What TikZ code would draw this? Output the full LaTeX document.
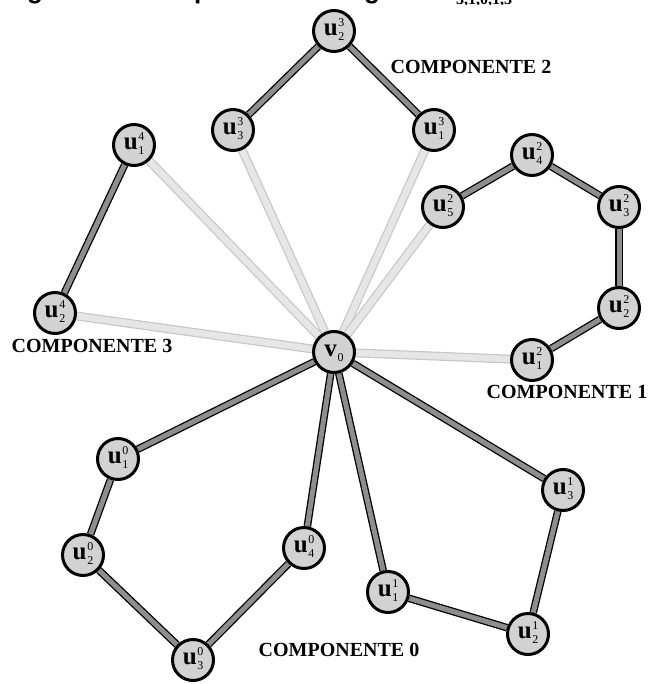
\documentclass[tikz,border=0pt]{standalone}
\usepackage{fontspec}
\setmainfont{Liberation Serif}
\newfontfamily\capsans{Liberation Sans}
\usetikzlibrary{backgrounds}

\definecolor{nodefill}{HTML}{D2D2D2}
\definecolor{darkedge}{HTML}{8E8E8E}
\definecolor{lightedge}{HTML}{E6E6E6}
\definecolor{lightrim}{HTML}{C6C6C6}

% vertex label: bold letter followed by a stacked superscript / subscript column
\newcommand\vlab[3]{{\bfseries #1}\kern0.6pt\raisebox{-5pt}{\fontsize{12}{14}\selectfont\begin{tabular}[b]{@{}l@{}}#2\\#3\end{tabular}}}

\tikzset{
  vert/.style={circle, draw=black, line width=3pt, fill=nodefill,
    minimum size=41pt, inner sep=0pt, font=\fontsize{25}{25}\selectfont},
  darkline/.style={draw=black, line width=1.3pt, double=darkedge, double distance=5pt},
  lightline/.style={draw=lightrim, line width=1.2pt, double=lightedge, double distance=6.5pt},
  complabel/.style={font=\fontsize{20}{20}\selectfont\bfseries},
  captionbit/.style={anchor=base, inner sep=0pt, font=\capsans\fontsize{26}{26}\selectfont\bfseries},
}

\begin{document}
\begin{tikzpicture}[x=1pt, y=-1pt]
\useasboundingbox (0,0) rectangle (647,684);

% caption line above the figure, cut off at the top edge
\begin{scope}
  \clip (0,0) rectangle (647,4.5);
  \node[captionbit] (capg1) at (35,-1.5) {g};
  \node[captionbit] (capp) at (202,-1.5) {p};
  \node[captionbit] (capg2) at (372,-1.5) {g};
  \node[anchor=base west, inner sep=0pt, font=\fontsize{16}{16}\selectfont\bfseries] (capsub) at (456,5) {3,1,0,1,3};
\end{scope}

% vertices
\node[vert] (v0) at (334,352) {\vlab{v}{}{0}};

\node[vert] (u23) at (334,31) {\vlab{u}{3}{2}};
\node[vert] (u33) at (233,130) {\vlab{u}{3}{3}};
\node[vert] (u13) at (434,130) {\vlab{u}{3}{1}};

\node[vert] (u14) at (134,145) {\vlab{u}{4}{1}};
\node[vert] (u24) at (55,313) {\vlab{u}{4}{2}};

\node[vert] (u42) at (532,155) {\vlab{u}{2}{4}};
\node[vert] (u52) at (443,207) {\vlab{u}{2}{5}};
\node[vert] (u32) at (619,207) {\vlab{u}{2}{3}};
\node[vert] (u22) at (619,308) {\vlab{u}{2}{2}};
\node[vert] (u12) at (532,360) {\vlab{u}{2}{1}};

\node[vert] (u10) at (118,459) {\vlab{u}{0}{1}};
\node[vert] (u20) at (83,555) {\vlab{u}{0}{2}};
\node[vert] (u30) at (193,660) {\vlab{u}{0}{3}};
\node[vert] (u40) at (304,548) {\vlab{u}{0}{4}};

\node[vert] (u11) at (388,592) {\vlab{u}{1}{1}};
\node[vert] (u21) at (528,634) {\vlab{u}{1}{2}};
\node[vert] (u31) at (563,490) {\vlab{u}{1}{3}};

% component labels
\node[complabel] (c2) at (471,67) {COMPONENTE 2};
\node[complabel] (c3) at (92,346) {COMPONENTE 3};
\node[complabel] (c1) at (567,392) {COMPONENTE 1};
\node[complabel] (c0) at (339,650) {COMPONENTE 0};

% edges behind the vertices
\begin{scope}[on background layer]
  % light edges to v0
  \draw[lightline] (v0) -- (u33);
  \draw[lightline] (v0) -- (u13);
  \draw[lightline] (v0) -- (u14);
  \draw[lightline] (v0) -- (u24);
  \draw[lightline] (v0) -- (u52);
  \draw[lightline] (v0) -- (u12);
  % component 2
  \draw[darkline] (u33) -- (u23);
  \draw[darkline] (u23) -- (u13);
  % component 3
  \draw[darkline] (u14) -- (u24);
  % component 1
  \draw[darkline] (u12) -- (u22);
  \draw[darkline] (u22) -- (u32);
  \draw[darkline] (u32) -- (u42);
  \draw[darkline] (u42) -- (u52);
  % component 0
  \draw[darkline] (v0) -- (u10);
  \draw[darkline] (u10) -- (u20);
  \draw[darkline] (u20) -- (u30);
  \draw[darkline] (u30) -- (u40);
  \draw[darkline] (u40) -- (v0);
  \draw[darkline] (v0) -- (u11);
  \draw[darkline] (u11) -- (u21);
  \draw[darkline] (u21) -- (u31);
  \draw[darkline] (u31) -- (v0);
\end{scope}
\end{tikzpicture}
\end{document}
